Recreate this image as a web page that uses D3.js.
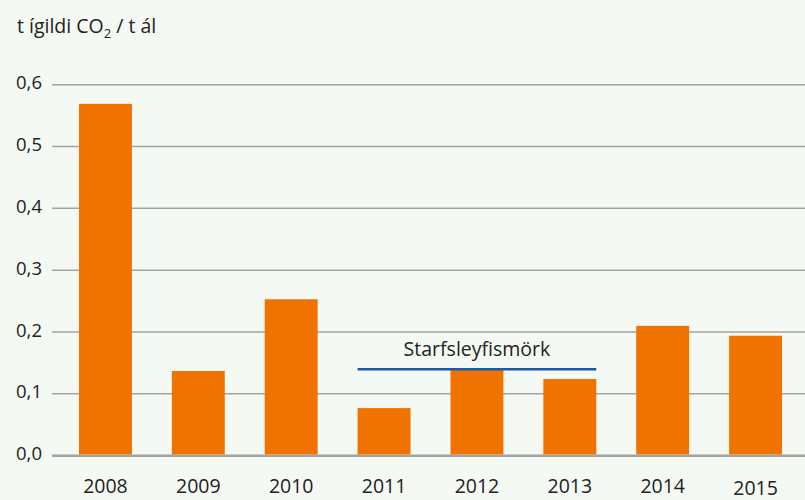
<!DOCTYPE html>
<html><head><meta charset="utf-8">
<script src="https://cdn.jsdelivr.net/npm/d3@7"></script>
<style>
html,body{margin:0;padding:0;background:#f5f9f3;}
svg{display:block;font-family:"Open Sans",sans-serif;}
</style></head>
<body><svg id="c" width="805" height="500"></svg>
<script>
const years = ["2008","2009","2010","2011","2012","2013","2014","2015"];
const values = [0.569,0.137,0.253,0.077,0.140,0.124,0.210,0.194];
const yTicks = [0,0.1,0.2,0.3,0.4,0.5,0.6];
const limitLabel = "Starfsleyfismörk";
const limitValue = 0.14;
const limitYears = ["2011","2013"];

const svg = d3.select("#c");
const x = d3.scaleBand().domain(years).range([59,802]).paddingInner(0.43).paddingOuter(0.215);
const y = d3.scaleLinear().domain([0,0.6]).range([455.7,84.7]);
const fmt = d => d3.format(".1f")(d).replace(".", ",");

// gridlines
svg.append("g").selectAll("line").data(yTicks).join("line")
  .attr("x1",52).attr("x2",805)
  .attr("y1",d=>y(d)).attr("y2",d=>y(d))
  .attr("stroke","#a3a3a3").attr("stroke-width",d=>d===0?2.5:1.5);

svg.append("g").selectAll("text").data(yTicks).join("text")
  .attr("x",42).attr("y",d=>y(d)+4.5)
  .attr("text-anchor","end").attr("font-size",18.5).attr("fill","#222")
  .text(fmt);

// bars
svg.append("g").selectAll("rect").data(values).join("rect")
  .attr("x",(d,i)=>x(years[i])).attr("width",x.bandwidth())
  .attr("y",d=>y(d)).attr("height",d=>y(0)-y(d)-1.2)
  .attr("fill","#f07300");

// x labels
svg.append("g").selectAll("text").data(years).join("text")
  .attr("x",d=>x(d)+x.bandwidth()/2).attr("y",(d,i)=>493+(i===7?2:0))
  .attr("text-anchor","middle").attr("font-size",19.5).attr("fill","#222")
  .text(d=>d);

// limit line
const lx1 = x(limitYears[0]), lx2 = x(limitYears[1])+x.bandwidth();
svg.append("line").attr("x1",lx1).attr("x2",lx2)
  .attr("y1",y(limitValue)).attr("y2",y(limitValue))
  .attr("stroke","#1a58a6").attr("stroke-width",2.5);
svg.append("text").attr("x",(lx1+lx2)/2).attr("y",356)
  .attr("text-anchor","middle").attr("font-size",19.5).attr("fill","#222")
  .text(limitLabel);

// title
const t = svg.append("text").attr("x",17).attr("y",33).attr("font-size",19.5).attr("fill","#222");
t.append("tspan").text("t ígildi CO");
t.append("tspan").attr("font-size",13).attr("dy",5).text("2");
t.append("tspan").attr("dy",-5).text(" / t ál");
</script></body></html>
